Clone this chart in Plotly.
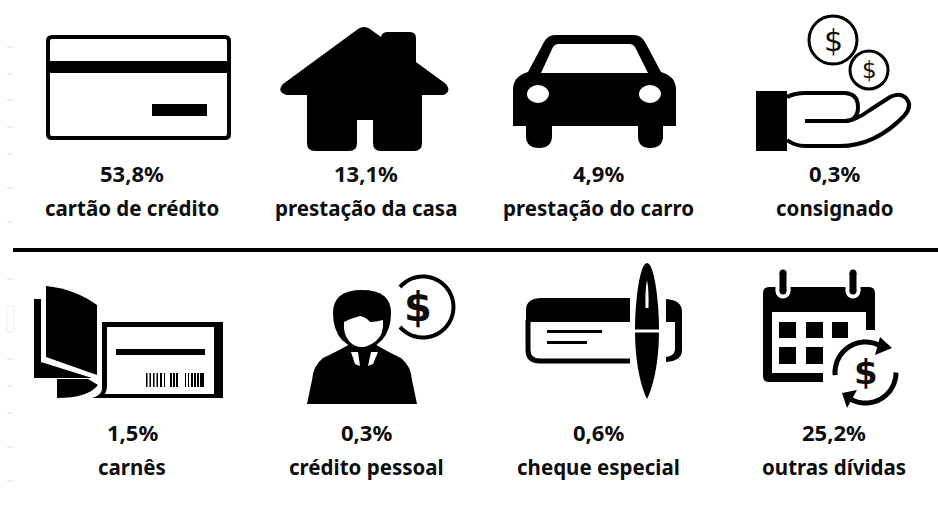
import math
import plotly.graph_objects as go

categories = ["cartão de crédito", "prestação da casa", "prestação do carro", "consignado",
              "carnês", "crédito pessoal", "cheque especial", "outras dívidas"]
values = [53.8, 13.1, 4.9, 0.3, 1.5, 0.3, 0.6, 25.2]

W, H = 938, 506
BLACK = "#000000"
TEXT = "#0d0d0d"
FONT = "Noto Sans"

shapes = []


def fill(path, color=BLACK):
    shapes.append(dict(type="path", path=path, fillcolor=color, line=dict(width=0), layer="above"))


def stroke(path, w, color=BLACK):
    shapes.append(dict(type="path", path=path, line=dict(color=color, width=w), fillcolor="rgba(0,0,0,0)", layer="above"))


def rect(x0, y0, x1, y1, color=BLACK):
    shapes.append(dict(type="rect", x0=x0, y0=y0, x1=x1, y1=y1, fillcolor=color, line=dict(width=0), layer="above"))


def circle(cx, cy, rx, ry=None, color=BLACK, line_w=0, line_color=BLACK):
    ry = rx if ry is None else ry
    shapes.append(dict(type="circle", x0=cx - rx, x1=cx + rx, y0=cy - ry, y1=cy + ry, fillcolor=color,
                       line=dict(width=line_w, color=line_color), layer="above"))


def arc(cx, cy, r, a0, a1, n=36):
    pts = []
    for i in range(n + 1):
        a = math.radians(a0 + (a1 - a0) * i / n)
        pts.append(f"{cx + r * math.cos(a):.1f} {cy - r * math.sin(a):.1f}")
    return "M" + " L".join(pts)


# faint guide ticks at the left edge
for yy in [47, 74, 100, 127, 154, 188, 222, 279, 359, 386, 413, 447, 481]:
    shapes.append(dict(type="line", x0=7, x1=13, y0=yy, y1=yy, line=dict(color="#dddddd", width=1)))
shapes.append(dict(type="rect", x0=7, x1=14, y0=306, y1=332, line=dict(color="#eeeeee", width=1)))

# separator
rect(13, 248, 938, 252)

# credit card
stroke("M52 37 L225 37 Q229 37 229 41 L229 134 Q229 138 225 138 L52 138 Q48 138 48 134 L48 41 Q48 37 52 37 Z", 4)
rect(48, 61, 229, 73)
rect(152, 104, 207, 116)

# house
fill("M364 27 Q367 27 370 29 L381 37 Q382 32 388 32 L410 32 Q416 32 416 38 L416 62 L446 84 Q452 92 443 95 "
     "L422 95 L422 143 Q422 151 414 151 L381 151 Q373 151 373 143 L373 120 L357 120 L357 143 Q357 151 349 151 "
     "L315 151 Q307 151 307 143 L307 95 L287 95 Q276 92 283 84 L358 29 Q361 27 364 27 Z")

# car
fill("M528 72 L544 42 Q548 35 555 35 L634 35 Q641 35 645 42 L661 72 Q676 76 676 90 L676 126 L663 126 L663 136 "
     "Q663 148 650 148 Q638 148 638 136 L638 126 L552 126 L552 136 Q552 148 539 148 Q526 148 526 136 L526 126 "
     "L513 126 L513 90 Q513 76 528 72 Z")
fill("M541 73 L553 47 Q555 44 558 44 L630 44 Q633 44 635 47 L648 73 Z", "#ffffff")
circle(538, 94, 11, 9, "#ffffff")
circle(650, 94, 11, 9, "#ffffff")

# hand with coins
rect(756, 91, 787, 151)
stroke("M787 97 Q795 93 805 93 L845 93 Q858 94 858 107 Q858 121 845 121 L805 121", 4)
stroke("M845 121 Q855 121 870 110 L890 97 Q900 92 906 98 Q913 106 904 116 Q875 146 840 146 L805 146 Q795 146 787 140", 4)
circle(833, 40, 24, color="#ffffff", line_w=3)
circle(869, 70, 19, color="#ffffff", line_w=3)

# booklet
fill("M46 286 Q75 289 97 305 L97 375 L46 357 Z")
fill("M34 299 L41 299 L41 362 L92 378 L34 378 Z")
fill("M57 379 L88 379 L98 385 Q88 398 57 398 Z")
fill("M102 322 L223 322 L223 398 L92 398 Q100 396 102 390 Z")
fill("M107 327 L214 327 L214 394 L105 394 Q107 390 107 386 Z", "#ffffff")
rect(116, 349, 205, 355)
for x0, x1 in [(146, 147.5), (149.5, 151), (153, 154.5), (156.5, 158), (160, 162), (164, 165), (170, 172), (173, 175),
               (176, 178), (185, 186), (188, 189), (191, 193), (194, 196), (197, 199), (200, 204)]:
    rect(x0, 373, x1, 387)

# person with coin
fill("M352 343 Q336 352 323 358 Q313 366 312 380 L307 404 L417 404 L412 380 Q411 366 401 358 Q388 352 373 343 Z")
fill("M333 313 Q333 290 362 290 Q391 290 391 313 Q391 330 382 340 L373 348 L352 348 L342 340 Q333 330 333 313 Z")
fill("M344 322 Q352 318 360 316 Q366 317 370 322 Q376 322 383 320 Q384 335 376 341 Q368 347 362 347 Q354 347 349 341 Q343 334 344 322 Z", "#ffffff")
fill("M351 352 L358 352 L360 366 L355 364 Z", "#ffffff")
fill("M378 352 L371 352 L368 366 L373 364 Z", "#ffffff")
stroke(arc(423, 307, 30.5, 139, -139), 4)

# cheque with pen
fill("M526 322 L526 310 Q526 298 542 298 L630 298 L630 322 Z")
stroke("M528 320 L528 350 Q528 361 540 361 L630 361", 5)
rect(547, 330, 602, 333)
rect(547, 341, 587, 344)
fill("M666 299 Q682 300 682 312 L682 350 Q682 361 666 362 L666 357 Q674 356 675 350 L675 322 L666 322 Z")
fill("M647 263 C654 263 659 300 659 330 C659 360 654 385 647 399 C640 385 635 360 635 330 C635 300 640 263 647 263 Z")
rect(632, 329.5, 662, 332.5, "#ffffff")
fill("M647 280 Q649 290 648.5 308 L645.5 308 Q645 290 647 280 Z", "#ffffff")

# calendar with arrows
fill("M769 287 L869 287 Q875 287 875 293 L875 330 L866 330 L866 312 L772 312 L772 373 L823 373 L823 382 L769 382 "
     "Q763 382 763 376 L763 293 Q763 287 769 287 Z")
for xx in [783, 853]:
    circle(xx, 291, 7.5, color="#ffffff")
    rect(xx - 7.5, 270, xx + 7.5, 291, "#ffffff")
    rect(xx - 3.5, 273, xx + 3.5, 291)
    circle(xx, 273, 3.5)
    circle(xx, 291, 3.5)
for x0, x1, y0, y1 in [(779, 796, 322, 338), (806, 823, 322, 338), (832, 848, 322, 338),
                       (779, 796, 347, 364), (806, 823, 347, 364)]:
    rect(x0, y0, x1, y1)
stroke(arc(865.5, 372.5, 30.5, 185, 50), 5)
stroke(arc(865.5, 372.5, 30.5, 0, -125), 5)
fill("M880 337 L892 348 L875 355 Z")
fill("M842 393 L857 390 L847 408 Z")

annotations = []


def text(x, y, s, size=21, bold=True, font=FONT):
    annotations.append(dict(x=x, y=y, xref="x", yref="y", text=f"<b>{s}</b>" if bold else s, showarrow=False,
                            xanchor="center", yanchor="middle", font=dict(family=font, size=size, color=TEXT)))


# coin dollar signs
text(833, 40, "$", 30, False, "DejaVu Sans")
text(869, 70, "$", 23, False, "DejaVu Sans")
text(418, 307, "$", 40, True, "DejaVu Sans")
text(866, 372, "$", 34, True, "DejaVu Sans")

column_x = [132, 366, 598, 834]
value_y = [173, 432]
label_y = [208, 467]
for i, (cat, val) in enumerate(zip(categories, values)):
    row, col = divmod(i, 4)
    text(column_x[col], value_y[row], f"{val:.1f}%".replace(".", ","), 22)
    text(column_x[col], label_y[row], cat, 20.5)

fig = go.Figure()
fig.update_layout(
    width=W, height=H, margin=dict(l=0, r=0, t=0, b=0),
    paper_bgcolor="white", plot_bgcolor="white", showlegend=False,
    xaxis=dict(range=[0, W], visible=False, fixedrange=True),
    yaxis=dict(range=[H, 0], visible=False, fixedrange=True),
    shapes=shapes, annotations=annotations,
)
fig.write_html("out.html", config={"displayModeBar": False},
               post_script="document.body.style.margin='0';document.body.style.overflow='hidden';")
